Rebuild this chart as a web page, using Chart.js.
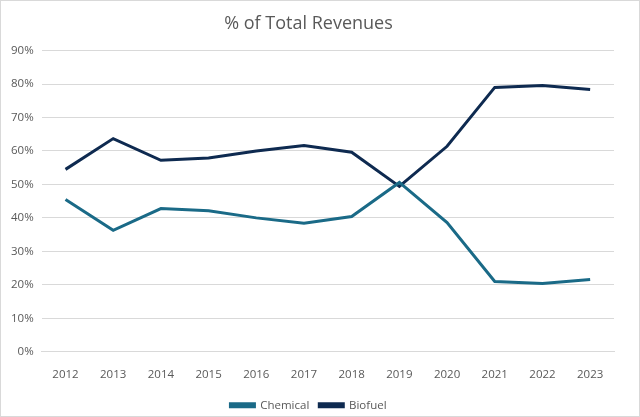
<!DOCTYPE html>
<html lang="en">
<head>
    <meta charset="UTF-8">
    <title>% of Total Revenues</title>
    <script src="https://cdn.jsdelivr.net/npm/chart.js"></script>
    <style>
        html, body { margin: 0; padding: 0; background: #fff; }
        #wrap { width: 638px; height: 415px; border: 1px solid #d9d9d9; }
    </style>
</head>
<body>
<div id="wrap"><canvas id="revChart" width="638" height="415"></canvas></div>
<script>
    // данные с графика
    var years = ['2012', '2013', '2014', '2015', '2016', '2017', '2018', '2019', '2020', '2021', '2022', '2023'];
    var chemical = [45.5, 36.3, 42.8, 42.1, 40.0, 38.4, 40.4, 50.6, 38.6, 21.0, 20.4, 21.6];
    var biofuel = [54.5, 63.7, 57.2, 57.9, 60.0, 61.6, 59.6, 49.4, 61.4, 79.0, 79.6, 78.4];

    var font = "'Open Sans', 'Noto Sans', sans-serif";
    var textColor = '#595959';

    var ctx = document.getElementById('revChart').getContext('2d');
    new Chart(ctx, {
        type: 'line',
        data: {
            labels: years,
            datasets: [{
                label: 'Chemical',
                data: chemical,
                borderColor: '#1a6a87',
                backgroundColor: '#1a6a87',
                borderWidth: 3,
                pointRadius: 0,
                tension: 0
            }, {
                label: 'Biofuel',
                data: biofuel,
                borderColor: '#0e2a50',
                backgroundColor: '#0e2a50',
                borderWidth: 3,
                pointRadius: 0,
                tension: 0
            }]
        },
        options: {
            responsive: false,
            animation: false,
            layout: { padding: { left: 2, right: 25, top: 8, bottom: -5 } },
            plugins: {
                title: {
                    display: true,
                    text: '% of Total Revenues',
                    color: textColor,
                    font: { family: font, size: 18, weight: 'normal' },
                    padding: { top: 4, bottom: 16 }
                },
                legend: {
                    position: 'bottom',
                    labels: {
                        color: textColor,
                        font: { family: font, size: 11.5 },
                        boxWidth: 24,
                        boxHeight: 3,
                        padding: 10
                    }
                },
                tooltip: { enabled: false }
            },
            scales: {
                x: {
                    offset: true,
                    grid: { display: false },
                    border: { color: '#d9d9d9' },
                    ticks: { color: textColor, font: { family: font, size: 11.5 }, maxRotation: 0, padding: 8 }
                },
                y: {
                    min: 0,
                    max: 90,
                    grid: { color: '#d9d9d9', drawTicks: false },
                    border: { display: false },
                    ticks: {
                        stepSize: 10,
                        color: textColor,
                        font: { family: font, size: 11.5 },
                        padding: 8,
                        callback: function (v) { return v + '%'; }
                    }
                }
            }
        }
    });
</script>
</body>
</html>
